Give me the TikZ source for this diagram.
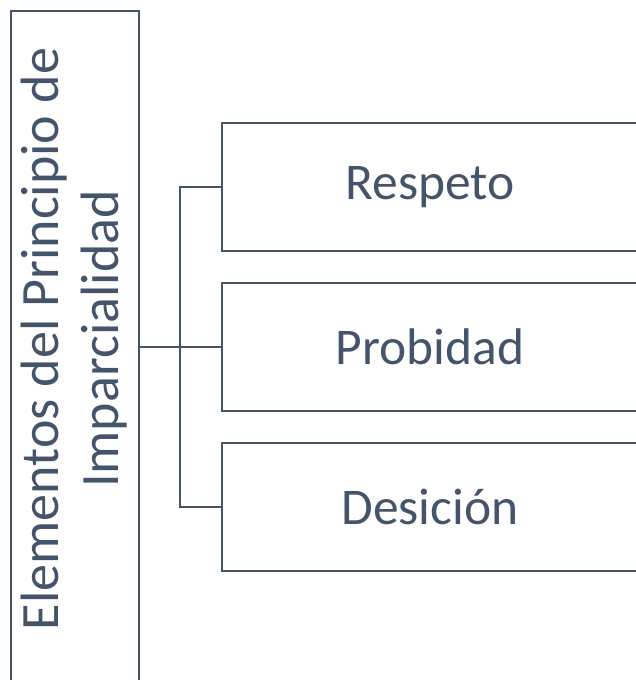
\documentclass[tikz,border=0pt]{standalone}
\usepackage{fontspec}
\setmainfont{Carlito}
\definecolor{slate}{HTML}{44546A}
\tikzset{
  itembox/.style={draw=slate, line width=2pt, minimum width=416pt, minimum height=128pt, inner sep=0pt},
  itemtext/.style={text=slate, font=\fontsize{51.5}{62}\selectfont},
  maintext/.style={text=slate, font=\fontsize{54}{60}\selectfont},
  link/.style={draw=slate, line width=2pt}
}
\begin{document}
\begin{tikzpicture}[x=1pt,y=-1pt]
  \useasboundingbox (0,0) rectangle (635,680);
  % main box
  \node [draw=slate, line width=2pt, minimum width=128pt, minimum height=670pt, inner sep=0pt] (main) at (74.5,346) {};
  \node [maintext, rotate=90, align=center] (mainlabel) at ([yshift=7pt]main.center) {Elementos del Principio de\\Imparcialidad};
  % elements
  \node [itembox] (respeto) at (430,187) {};
  \node [itembox] (probidad) at (430,347) {};
  \node [itembox] (desicion) at (430,507) {};
  \node [itemtext] (t1) at (respeto.center) {Respeto};
  \node [itemtext] (t2) at (probidad.center) {Probidad};
  \node [itemtext] (t3) at (desicion.center) {Desición};
  % connectors
  \coordinate (fork) at (180,347);
  \draw [link] (main.east |- probidad.west) -- (probidad.west);
  \draw [link] (respeto.west) -- (fork |- respeto.west) -- (fork |- desicion.west) -- (desicion.west);
\end{tikzpicture}
\end{document}
